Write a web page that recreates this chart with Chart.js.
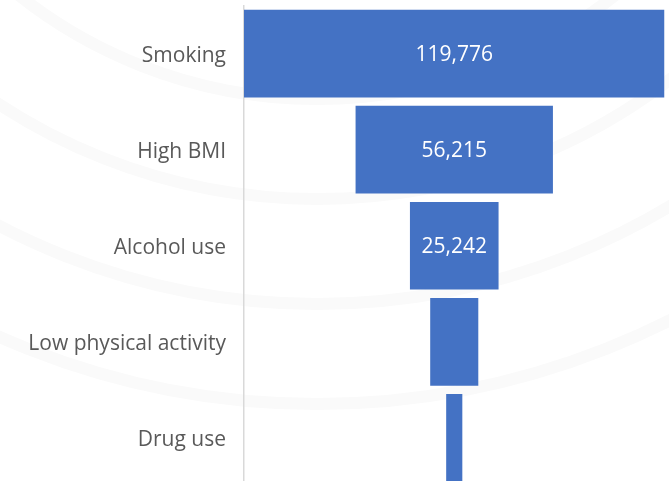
<!DOCTYPE html>
<html>
<head>
<meta charset="utf-8">
<script src="https://cdn.jsdelivr.net/npm/chart.js@4/dist/chart.umd.min.js"></script>
<style>
  body { margin: 0; background: #fff; }
  #wrap { width: 669px; height: 481px; overflow: hidden; }
</style>
</head>
<body>
<div id="wrap"><canvas id="funnelChart" width="669" height="488"></canvas></div>
<script>
// Funnel stages (top to bottom)
const categories = ['Smoking', 'High BMI', 'Alcohol use', 'Low physical activity', 'Drug use'];
const values = [119776, 56215, 25242, 13700, 4600];

const barColor = '#4472c4';
const labelFont = '21px "Open Sans"';

// centre each bar on zero so the stack reads as a funnel
const spans = values.map(v => [-v / 2, v / 2]);
const maxVal = Math.max(...values);

// faint background arcs seen behind the chart
const backgroundArcs = {
    id: 'backgroundArcs',
    beforeDraw(chart) {
        const ctx = chart.ctx;
        ctx.save();
        ctx.strokeStyle = '#fafafa';
        ctx.lineWidth = 12;
        [480, 580, 685, 785].forEach(r => {
            ctx.beginPath();
            ctx.arc(317, -381, r, 0, Math.PI);
            ctx.stroke();
        });
        ctx.restore();
    }
};

// value labels inside bars, only where they fit
const barLabels = {
    id: 'barLabels',
    afterDatasetsDraw(chart) {
        const ctx = chart.ctx;
        const meta = chart.getDatasetMeta(0);
        ctx.save();
        ctx.font = labelFont;
        ctx.fillStyle = '#ffffff';
        ctx.textAlign = 'center';
        ctx.textBaseline = 'middle';
        meta.data.forEach((bar, i) => {
            const text = values[i].toLocaleString('en-US');
            const w = Math.abs(bar.x - bar.base);
            if (ctx.measureText(text).width + 10 < w) {
                ctx.fillText(text, (bar.x + bar.base) / 2, bar.y + 1);
            }
        });
        ctx.restore();
    }
};

const ctx = document.getElementById('funnelChart').getContext('2d');
new Chart(ctx, {
    type: 'bar',
    data: {
        labels: categories,
        datasets: [{
            data: spans,
            backgroundColor: barColor,
            borderWidth: 0,
            borderSkipped: false,
            barPercentage: 0.913,
            categoryPercentage: 1
        }]
    },
    options: {
        indexAxis: 'y',
        responsive: false,
        animation: false,
        layout: { padding: { top: 5.5, right: 4.5, bottom: 2, left: 0 } },
        plugins: {
            legend: { display: false },
            tooltip: { enabled: false }
        },
        scales: {
            x: {
                display: false,
                min: -maxVal / 2,
                max: maxVal / 2
            },
            y: {
                afterFit(scale) {
                    scale.width = 244;
                    scale.paddingTop = 0;
                    scale.paddingBottom = 0;
                },
                grid: { display: false, drawTicks: false, tickLength: 0 },
                border: { display: true, color: '#d9d9d9', width: 1.5 },
                ticks: {
                    color: '#595959',
                    padding: 18,
                    labelOffset: 2,
                    font: { family: 'Open Sans', size: 21 }
                }
            }
        }
    },
    plugins: [backgroundArcs, barLabels]
});
</script>
</body>
</html>
